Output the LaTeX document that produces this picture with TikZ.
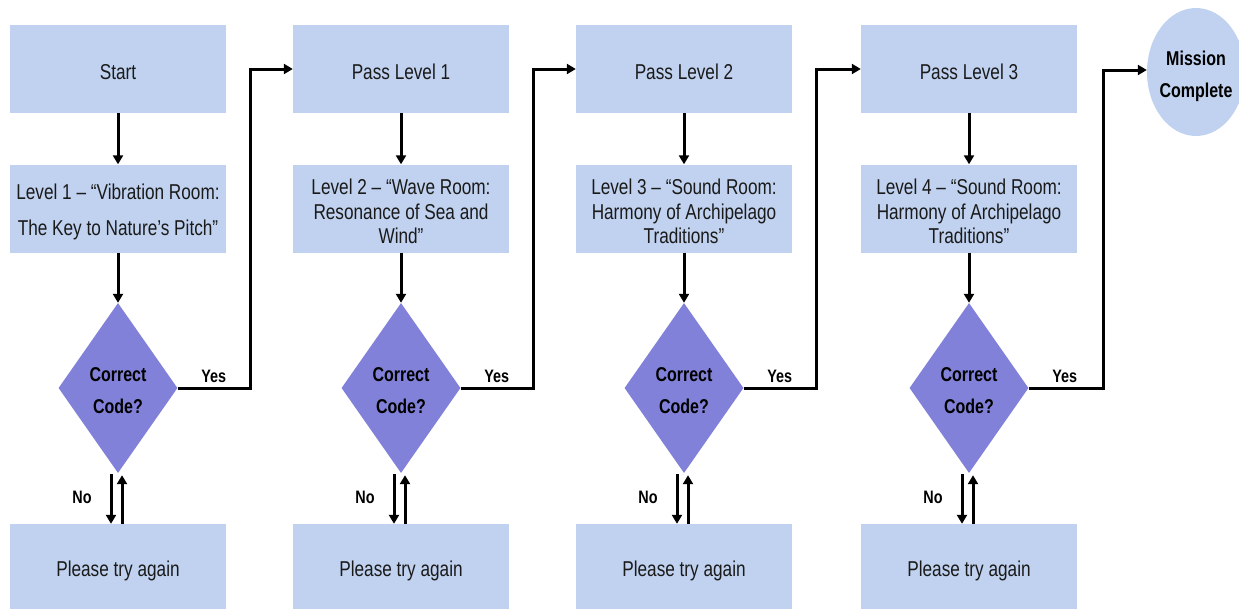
\documentclass[tikz,border=0pt]{standalone}
\usepackage{fontspec}
\setmainfont{Liberation Sans}[FakeStretch=0.8]
\usetikzlibrary{arrows.meta,shapes.geometric}
\definecolor{boxblue}{HTML}{C0D2EF}
\definecolor{diapurple}{HTML}{8181D9}
\definecolor{txt}{HTML}{1A1A1A}
\tikzset{
  box/.style={rectangle,fill=boxblue,minimum width=216pt,minimum height=88pt,inner sep=0pt},
  btext/.style={text=txt,font=\fontsize{21.5}{24.5}\selectfont,align=center,inner sep=0pt,yshift=-3pt},
  dia/.style={diamond,fill=diapurple,minimum width=119pt,minimum height=170pt,inner sep=0pt,aspect=0.7},
  dtext/.style={text=black,font=\bfseries\fontsize{20}{32}\selectfont,align=center,inner sep=0pt,yshift=-3pt},
  endnode/.style={ellipse,fill=boxblue,minimum width=98pt,minimum height=128pt,inner sep=0pt},
  arr/.style={line width=3pt,-{Triangle[length=9pt,width=10pt]}},
  lbl/.style={font=\bfseries\fontsize{18}{20}\selectfont,text=black,inner sep=0pt},
}
\begin{document}
\begin{tikzpicture}[x=1pt,y=-1pt]
\useasboundingbox (0,0) rectangle (1239,608);
\clip (0,0) rectangle (1239,608);
% column 1
\node[box,label={[btext]center:Start}] (t1) at (118,69) {};
\node[box,label={[btext,font=\fontsize{21.5}{36}\selectfont]center:Level 1 – “Vibration Room:\\The Key to Nature’s Pitch”}] (m1) at (118,208.5) {};
\node[dia,label={[dtext]center:Correct\\Code?}] (d1) at (118,388) {};
\node[box,label={[btext]center:Please try again}] (b1) at (118,568) {};
% column 2
\node[box,label={[btext]center:Pass Level 1}] (t2) at (401,69) {};
\node[box,label={[btext]center:Level 2 – “Wave Room:\\Resonance of Sea and\\Wind”}] (m2) at (401,208.5) {};
\node[dia,label={[dtext]center:Correct\\Code?}] (d2) at (401,388) {};
\node[box,label={[btext]center:Please try again}] (b2) at (401,568) {};
% column 3
\node[box,label={[btext]center:Pass Level 2}] (t3) at (684,69) {};
\node[box,label={[btext]center:Level 3 – “Sound Room:\\Harmony of Archipelago\\Traditions”}] (m3) at (684,208.5) {};
\node[dia,label={[dtext]center:Correct\\Code?}] (d3) at (684,388) {};
\node[box,label={[btext]center:Please try again}] (b3) at (684,568) {};
% column 4
\node[box,label={[btext]center:Pass Level 3}] (t4) at (969,69) {};
\node[box,label={[btext]center:Level 4 – “Sound Room:\\Harmony of Archipelago\\Traditions”}] (m4) at (969,208.5) {};
\node[dia,label={[dtext]center:Correct\\Code?}] (d4) at (969,388) {};
\node[box,label={[btext]center:Please try again}] (b4) at (969,568) {};
% end
\node[endnode,label={[dtext,yshift=-1pt]center:Mission\\Complete}] (e) at (1196,72) {};
% connectors
\foreach \i/\j in {1/2,2/3,3/4}{
  \draw[arr] (t\i) -- (m\i);
  \draw[arr] (m\i) -- (d\i);
  \draw[arr] ([xshift=-7pt,yshift=-1pt]d\i.south) -- ([xshift=-7pt]b\i.north);
  \draw[arr] ([xshift=4pt]b\i.north) -- ([xshift=4pt,yshift=-2pt]d\i.south);
  \draw[arr] (d\i.east) -- ++(73,0) |- (t\j.west);
  \node[lbl] (y\i) at ([xshift=36pt,yshift=12pt]d\i.east) {Yes};
  \node[lbl] (n\i) at ([xshift=-36pt,yshift=-24pt]d\i.south) {No};
}
\draw[arr] (t4) -- (m4);
\draw[arr] (m4) -- (d4);
\draw[arr] ([xshift=-7pt,yshift=-1pt]d4.south) -- ([xshift=-7pt]b4.north);
\draw[arr] ([xshift=4pt]b4.north) -- ([xshift=4pt,yshift=-2pt]d4.south);
\draw[arr] (d4.east) -- ++(75,0) |- ([yshift=2pt]e.west);
\node[lbl] (y4) at ([xshift=36pt,yshift=12pt]d4.east) {Yes};
\node[lbl] (n4) at ([xshift=-36pt,yshift=-24pt]d4.south) {No};
\end{tikzpicture}
\end{document}
